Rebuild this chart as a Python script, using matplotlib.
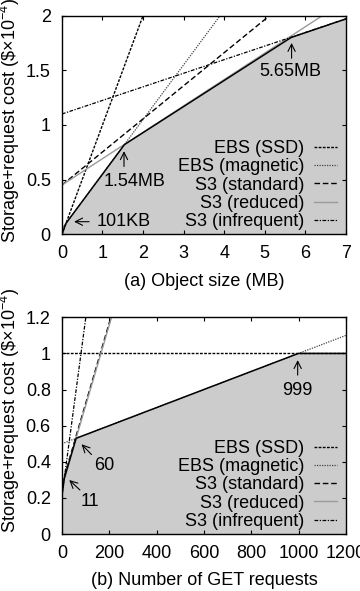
import matplotlib
matplotlib.use('Agg')
from matplotlib import pyplot as plt
from matplotlib.ticker import FuncFormatter

plt.rcParams['font.family'] = ['Liberation Sans', 'DejaVu Sans']
plt.rcParams['mathtext.fontset'] = 'custom'
plt.rcParams['mathtext.rm'] = 'Liberation Sans'
plt.rcParams['mathtext.it'] = 'Liberation Sans:italic'
plt.rcParams['font.size'] = 13

names = ['EBS (SSD)', 'EBS (magnetic)', 'S3 (standard)', 'S3 (reduced)', 'S3 (infrequent)']

# (a) cost vs object size: value at x=0 and at x=7 MB
size_x = [0, 7]
size_y0 = [0.0, 0.05, 0.45, 0.45, 1.10]
size_y7 = [7.0, 3.55, 2.57, 2.14, 1.97]
size_env_x = [0, 0.10, 1.54, 5.65, 7]
size_env_y = [0, 0.10, 0.82, 1.80, 1.97]

# (b) cost vs number of GET requests: value at 0 and at 1200 requests
get_x = [0, 1200]
get_y0 = [1.0, 0.5, 0.275, 0.262, 0.21]
get_y1200 = [1.0, 1.1, 5.64, 5.63, 11.97]
get_env_x = [0, 10, 60, 999, 1200]
get_env_y = [0.21, 0.307, 0.53, 1.0, 1.0]

styles = [
    dict(color='black', lw=1.0, ls=(0, (2, 1))),
    dict(color='#444444', lw=0.9, ls=(0, (1, 1))),
    dict(color='black', lw=1.0, ls=(0, (4, 2))),
    dict(color='#9a9a9a', lw=1.0, ls='-'),
    dict(color='black', lw=0.9, ls=(0, (3, 1.2, 1, 1.2))),
]

fill_color = '#cccccc'
ylabel = r'Storage+request cost (\$×10$^{-4}$)'
fmt = FuncFormatter(lambda v, p: '%g' % v)

fig = plt.figure(figsize=(3.6, 5.91), dpi=100)
ax1 = fig.add_axes([0.172, 0.6036, 0.789, 0.370])
ax2 = fig.add_axes([0.172, 0.0964, 0.789, 0.3667])


def draw_panel(ax, xs, y0, y1, env_x, env_y):
    ax.fill_between(env_x, env_y, 0, color=fill_color, lw=0, zorder=0)
    for i in range(len(names)):
        ax.plot(xs, [y0[i], y1[i]], label=names[i], zorder=2, **styles[i])
    ax.plot(env_x, env_y, color='black', lw=1.1, zorder=3)
    ax.legend(loc='lower right', bbox_to_anchor=(0.981, 0.002), frameon=False,
              markerfirst=False, handlelength=1.25, handletextpad=0.55,
              labelspacing=0.07, borderaxespad=0, borderpad=0.2, fontsize=13)
    ax.tick_params(direction='in', top=True, right=True, length=3, width=0.8)
    ax.tick_params(axis='x', pad=8)
    ax.tick_params(axis='y', pad=8)
    ax.xaxis.set_major_formatter(fmt)
    ax.yaxis.set_major_formatter(fmt)
    for s in ax.spines.values():
        s.set_linewidth(1.0)
    ax.set_ylabel(ylabel, fontsize=13)


# panel (a)
draw_panel(ax1, size_x, size_y0, size_y7, size_env_x, size_env_y)
ax1.set_xlim(0, 7)
ax1.set_ylim(0, 2)
ax1.set_xticks(range(0, 8))
ax1.set_yticks([0, 0.5, 1, 1.5, 2])
ax1.set_xlabel('(a) Object size (MB)')
ax1.xaxis.set_label_coords(0.5, -0.175)
ax1.yaxis.set_label_coords(-0.14, 0.52)

arrow = dict(arrowstyle='->', lw=0.8, color='black', shrinkA=0, shrinkB=0)
ax1.annotate('', xy=(0.30, 0.115), xytext=(0.67, 0.115), arrowprops=arrow)
ax1.text(0.85, 0.115, '101KB', ha='left', va='center')
ax1.annotate('', xy=(1.53, 0.76), xytext=(1.53, 0.62), arrowprops=arrow)
ax1.text(1.8, 0.48, '1.54MB', ha='center', va='center')
ax1.annotate('', xy=(5.66, 1.75), xytext=(5.66, 1.61), arrowprops=arrow)
ax1.text(5.64, 1.49, '5.65MB', ha='center', va='center')

# panel (b)
draw_panel(ax2, get_x, get_y0, get_y1200, get_env_x, get_env_y)
ax2.set_xlim(0, 1200)
ax2.set_ylim(0, 1.2)
ax2.set_xticks(range(0, 1201, 200))
ax2.set_yticks([0, 0.2, 0.4, 0.6, 0.8, 1, 1.2])
ax2.set_xlabel('(b) Number of GET requests')
ax2.xaxis.set_label_coords(0.5, -0.175)
ax2.yaxis.set_label_coords(-0.14, 0.57)

ax2.annotate('', xy=(996, 0.963), xytext=(996, 0.88), arrowprops=arrow)
ax2.text(996, 0.797, '999', ha='center', va='center')
ax2.annotate('', xy=(83, 0.497), xytext=(125, 0.44), arrowprops=arrow)
ax2.text(179, 0.378, '60', ha='center', va='center')
ax2.annotate('', xy=(31, 0.299), xytext=(76, 0.244), arrowprops=arrow)
ax2.text(118, 0.179, '11', ha='center', va='center')

fig.savefig('out.png', dpi=100)
